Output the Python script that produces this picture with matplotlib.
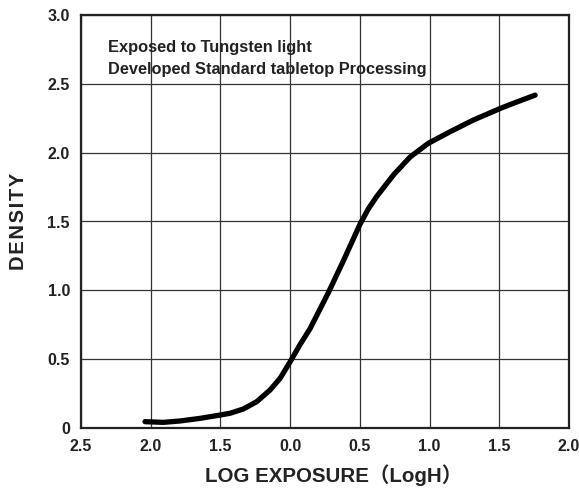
import matplotlib
matplotlib.use("Agg")
import matplotlib.pyplot as plt

# Data
log_exposure = [-1.041, -0.910, -0.790, -0.646, -0.503, -0.431, -0.336, -0.240,
                -0.144, -0.072, 0.000, 0.071, 0.143, 0.274, 0.382, 0.501,
                0.561, 0.621, 0.740, 0.860, 0.991, 1.147, 1.314, 1.518, 1.649,
                1.757]
density = [0.046, 0.041, 0.051, 0.070, 0.094, 0.107, 0.138, 0.191,
           0.276, 0.361, 0.481, 0.606, 0.722, 0.983, 1.215, 1.480,
           1.592, 1.682, 1.837, 1.968, 2.068, 2.152, 2.237, 2.326, 2.377,
           2.418]

x_ticks = [-1.5, -1.0, -0.5, 0.0, 0.5, 1.0, 1.5, 2.0]
x_tick_labels = ["2.5", "2.0", "1.5", "0.0", "0.5", "1.0", "1.5", "2.0"]
y_ticks = [0, 0.5, 1.0, 1.5, 2.0, 2.5, 3.0]
y_tick_labels = ["0", "0.5", "1.0", "1.5", "2.0", "2.5", "3.0"]

fam = ["Liberation Sans", "Noto Sans CJK JP", "DejaVu Sans"]
ink = "#222222"

fig = plt.figure(figsize=(5.79, 4.93), dpi=100)
ax = fig.add_axes([81/579, 65/493, 488/579, 413/493])

ax.plot(log_exposure, density, color="black", lw=3.8, solid_capstyle="round",
        solid_joinstyle="round", zorder=3)

ax.set_xlim(-1.5, 2.0)
ax.set_ylim(0, 3.0)
ax.set_xticks(x_ticks)
ax.set_xticklabels(x_tick_labels)
ax.set_yticks(y_ticks)
ax.set_yticklabels(y_tick_labels)
ax.tick_params(length=0, pad=8, labelsize=11.5)
for lbl in ax.get_xticklabels() + ax.get_yticklabels():
    lbl.set_family(fam)
    lbl.set_fontweight("bold")
    lbl.set_color(ink)

ax.grid(True, color="#333333", lw=0.9)
for s in ax.spines.values():
    s.set_linewidth(1.6)
    s.set_color(ink)

ax.set_xlabel("LOG EXPOSURE（LogH）", family=fam, fontweight="bold",
              fontsize=14.8, color=ink, labelpad=7.5)
ax.xaxis.label.set_x(0.518)
ax.set_ylabel("\u200a".join("DENSITY"), family=fam, fontweight="bold",
              fontsize=14.5, color=ink, labelpad=14)

ax.text(0.056, 0.94, "Exposed to Tungsten light\nDeveloped Standard tabletop Processing",
        transform=ax.transAxes, family=fam, fontweight="bold", fontsize=11.8,
        color=ink, va="top", ha="left", linespacing=1.6, zorder=4)

fig.savefig("out.png", dpi=100)
